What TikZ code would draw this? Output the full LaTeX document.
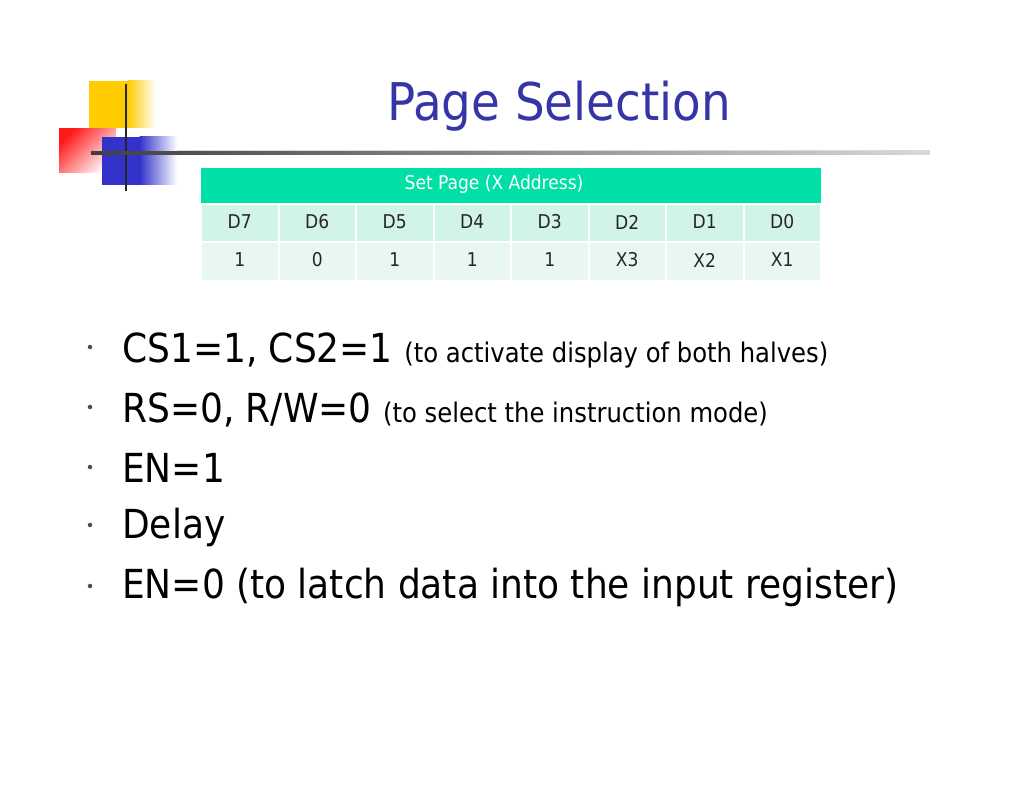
\documentclass[tikz,border=0pt]{standalone}
\usepackage{fontspec}
\setmainfont{DejaVu Sans Condensed}
\usetikzlibrary{calc}
\definecolor{titleblue}{HTML}{3535A5}
\definecolor{hdr}{HTML}{00E0A6}
\definecolor{rowa}{HTML}{D2F4E6}
\definecolor{rowb}{HTML}{E8F8F1}
\definecolor{ylw}{HTML}{FFCC00}
\definecolor{lblue}{HTML}{3333CC}
\tikzset{cell/.style={font=\fontsize{19}{19}\selectfont,text=black!85},
 big/.style={anchor=base west,font=\fontsize{40}{40}\selectfont,inner sep=0pt},
 dot/.style={circle,fill=black!70,inner sep=1.6pt}}
\newcommand{\sm}{\fontsize{27}{27}\selectfont}
\begin{document}
\begin{tikzpicture}[x=1pt,y=-1pt]
\useasboundingbox (0,0) rectangle (1024,791);
% logo
\fill[ylw] (89,81) rectangle (128,128);
\shade[left color=ylw,right color=white] (127.5,81) rectangle (156,128);
\shade[left color=white,right color=red!90,shading angle=225] (59,129) rectangle (116,173);
\fill[lblue] (102,137) rectangle (140,185);
\shade[left color=lblue,right color=white] (139.5,137) rectangle (177,185);
\draw[black!85,line width=2.5pt] (126,84) -- (126,191);
\shade[left color=black!75,right color=black!15] (91,151.5) rectangle (930,155);
\draw[black!15,line width=0.6pt] (177,150) -- (930,150);
% title
\node[text=titleblue,font=\fontsize{52}{52}\selectfont] (title) at (559,106) {Page Selection};
% table
\fill[hdr] (201,168) rectangle (821,203);
\node[text=white,font=\fontsize{19}{19}\selectfont] (hd) at (494,184) {Set Page (X Address)};
\foreach \i/\a/\b in {0/D7/1,1/D6/0,2/D5/1,3/D4/1,4/D3/1,5/D2/X3,6/D1/X2,7/D0/X1}{
 \fill[rowa] ({201+77.5*\i+1},205) rectangle ({201+77.5*(\i+1)-1},241);
 \fill[rowb] ({201+77.5*\i+1},243) rectangle ({201+77.5*(\i+1)-1},280);
 \node[cell] (h\i) at ({201+77.5*(\i+0.5)},222) {\a};
 \node[cell] (v\i) at ({201+77.5*(\i+0.5)},260) {\b};
}
% bullets
\foreach \y in {347,407,467,525,586} \node[dot] at (90,\y) {};
\node[big] (l1) at (122,362) {CS1=1, CS2=1 {\sm(to activate display of both halves)}};
\node[big] (l2) at (122,422) {RS=0, R/W=0 {\sm(to select the instruction mode)}};
\node[big] (l3) at (122,482) {EN=1};
\node[big] (l4) at (122,538) {Delay};
\node[big] (l5) at (122,598) {EN=0 (to latch data into the input register)};
\end{tikzpicture}
\end{document}
